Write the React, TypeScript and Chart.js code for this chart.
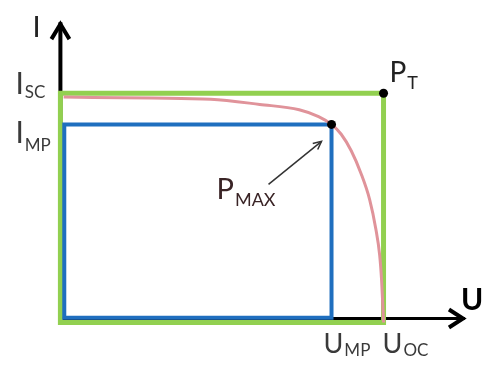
import { useEffect, useRef } from "react";
import { Chart, registerables } from "chart.js";
Chart.register(...registerables);

// Characteristic values (normalised units)
const U_OC = 1.0;
const I_SC = 1.0;
const U_MP = 0.839;
const I_MP = 0.864;
const U_AXIS_END = 1.252;
const I_AXIS_END = 1.31;
const X_AXIS_LEVEL = 0.017;
const BLUE_U0 = 0.012;
const BLUE_I0 = 0.021;

// I-U curve of the cell
const curveU = [0.01, 0.283, 0.465, 0.617, 0.739, 0.799, 0.839, 0.869, 0.9, 0.93, 0.957, 0.976, 0.988, 0.994, 0.998, 1.0];
const curveI = [0.983, 0.979, 0.974, 0.951, 0.928, 0.898, 0.864, 0.821, 0.749, 0.651, 0.536, 0.409, 0.294, 0.183, 0.068, 0.0];

// Text labels
const axisLabelI = "I";
const axisLabelU = "U";
const labelISC = ["I", "SC"];
const labelIMP = ["I", "MP"];
const labelPT = ["P", "T"];
const labelPMAX = ["P", "MAX"];
const labelUMP = ["U", "MP"];
const labelUOC = ["U", "OC"];

const GREEN = "#92d050";
const BLUE = "#1f6fbf";
const PINK = "#e0939a";
const TEXT = "#3a3a3a";

export default function App() {
  const ref = useRef<HTMLCanvasElement>(null);

  useEffect(() => {
    if (!ref.current) return;

    const drawSub = (
      ctx: CanvasRenderingContext2D,
      parts: string[],
      x: number,
      base: number,
      color: string,
      mainSize = 29,
      subSize = 18,
      drop = 6
    ) => {
      ctx.fillStyle = color;
      ctx.textAlign = "left";
      ctx.textBaseline = "alphabetic";
      ctx.font = `${mainSize}px Lato`;
      ctx.fillText(parts[0], x, base);
      const w = ctx.measureText(parts[0]).width;
      ctx.font = `${subSize}px Lato`;
      ctx.fillText(parts[1], x + w + 1, base + drop);
    };

    const annot = {
      id: "annot",
      afterDatasetsDraw(chart: any) {
        const ctx: CanvasRenderingContext2D = chart.ctx;
        const xs = chart.scales.x;
        const ys = chart.scales.y;
        const px = (v: number) => xs.getPixelForValue(v);
        const py = (v: number) => ys.getPixelForValue(v);
        ctx.save();

        // arrow heads of the axes
        ctx.strokeStyle = "#000";
        ctx.lineWidth = 4;
        ctx.lineJoin = "miter";
        ctx.lineCap = "butt";
        const ty = py(I_AXIS_END);
        const tx0 = px(0);
        ctx.beginPath();
        ctx.moveTo(tx0 - 9, ty + 17);
        ctx.lineTo(tx0, ty + 2);
        ctx.lineTo(tx0 + 9, ty + 17);
        ctx.stroke();
        const ax = px(U_AXIS_END);
        const ay = py(X_AXIS_LEVEL);
        ctx.beginPath();
        ctx.moveTo(ax - 16, ay - 9);
        ctx.lineTo(ax - 2, ay);
        ctx.lineTo(ax - 16, ay + 9);
        ctx.stroke();

        // P_MAX pointer arrow
        const sx = px(U_MP) - 63;
        const sy = py(I_MP) + 60;
        const ex = px(U_MP) - 10;
        const ey = py(I_MP) + 17;
        ctx.strokeStyle = "#333";
        ctx.lineWidth = 1.5;
        ctx.beginPath();
        ctx.moveTo(sx, sy);
        ctx.lineTo(ex, ey);
        ctx.stroke();
        const ang = Math.atan2(ey - sy, ex - sx);
        const hl = 9;
        ctx.beginPath();
        ctx.moveTo(ex - hl * Math.cos(ang - 0.45), ey - hl * Math.sin(ang - 0.45));
        ctx.lineTo(ex, ey);
        ctx.lineTo(ex - hl * Math.cos(ang + 0.45), ey - hl * Math.sin(ang + 0.45));
        ctx.stroke();

        // labels
        ctx.fillStyle = "#222";
        ctx.font = "29px Lato";
        ctx.textAlign = "left";
        ctx.fillText(axisLabelI, px(0) - 28, py(I_AXIS_END) + 15);

        ctx.fillStyle = "#000";
        ctx.font = "bold 30px Lato";
        ctx.fillText(axisLabelU, px(U_AXIS_END) - 4, py(X_AXIS_LEVEL) - 9);

        drawSub(ctx, labelISC, px(0) - 45, py(I_SC) + 1, TEXT, 30, 17, 4);
        drawSub(ctx, labelIMP, px(0) - 45, py(I_MP) + 19, TEXT, 30, 17, 8);
        drawSub(ctx, labelPT, px(U_OC) + 6, py(I_SC) - 11, "#222", 28, 18, 7);
        drawSub(ctx, labelPMAX, px(U_MP) - 115, py(I_MP) + 75, "#3a2426", 29, 18, 7);
        drawSub(ctx, labelUMP, px(U_MP) - 8, py(0) + 31, TEXT, 27, 17, 3);
        drawSub(ctx, labelUOC, px(U_OC) - 1, py(0) + 31, TEXT, 27, 17, 3);

        ctx.restore();
      },
    };

    const pts = (u: number[], i: number[]) => u.map((v, k) => ({ x: v, y: i[k] }));

    const chart = new Chart(ref.current, {
      type: "line",
      data: {
        datasets: [
          {
            data: [
              { x: 0, y: 0 },
              { x: 0, y: I_AXIS_END },
            ],
            borderColor: "#000",
            borderWidth: 4,
            pointRadius: 0,
            order: 10,
          },
          {
            data: [
              { x: 0, y: X_AXIS_LEVEL },
              { x: U_AXIS_END, y: X_AXIS_LEVEL },
            ],
            borderColor: "#000",
            borderWidth: 3,
            pointRadius: 0,
            order: 10,
          },
          {
            data: [
              { x: 0, y: 0 },
              { x: 0, y: I_SC },
              { x: U_OC, y: I_SC },
              { x: U_OC, y: 0 },
              { x: 0, y: 0 },
            ],
            borderColor: GREEN,
            borderWidth: 5,
            borderCapStyle: "square",
            borderJoinStyle: "miter",
            pointRadius: 0,
            order: 8,
          },
          {
            data: [
              { x: BLUE_U0, y: BLUE_I0 },
              { x: BLUE_U0, y: I_MP },
              { x: U_MP, y: I_MP },
              { x: U_MP, y: BLUE_I0 },
              { x: BLUE_U0, y: BLUE_I0 },
            ],
            borderColor: BLUE,
            borderWidth: 4,
            borderCapStyle: "square",
            borderJoinStyle: "miter",
            pointRadius: 0,
            order: 6,
          },
          {
            data: pts(curveU, curveI),
            borderColor: PINK,
            borderWidth: 3,
            cubicInterpolationMode: "monotone",
            pointRadius: 0,
            order: 4,
          },
          {
            data: [
              { x: U_OC, y: I_SC },
              { x: U_MP, y: I_MP },
            ],
            showLine: false,
            pointRadius: 4.5,
            pointBackgroundColor: "#000",
            pointBorderColor: "#000",
            pointBorderWidth: 0,
            order: 1,
          },
        ],
      },
      options: {
        animation: false,
        responsive: true,
        maintainAspectRatio: false,
        events: [],
        layout: { padding: 0 },
        plugins: { legend: { display: false }, tooltip: { enabled: false } },
        scales: {
          x: { type: "linear", min: -0.173, max: 1.331, display: false },
          y: { type: "linear", min: -0.166, max: 1.387, display: false },
        },
      },
      plugins: [annot],
    } as any);

    return () => chart.destroy();
  }, []);

  return (
    <div style={{ position: "fixed", left: 0, top: 0, width: 495, height: 365, background: "#fff" }}>
      <canvas ref={ref} />
    </div>
  );
}
